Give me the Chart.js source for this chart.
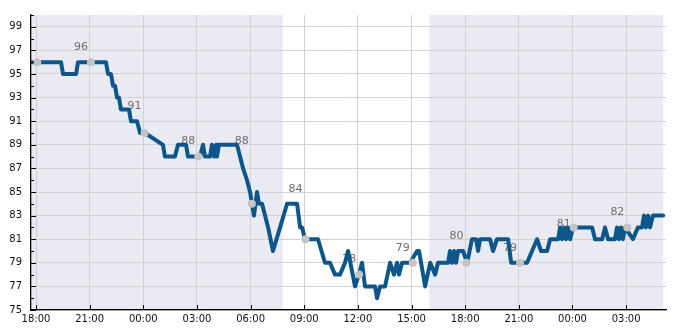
<!DOCTYPE html>
<html>
<head>
<meta charset="utf-8">
<script src="https://cdn.jsdelivr.net/npm/chart.js@4/dist/chart.umd.min.js"></script>
<style>
  html, body { margin: 0; padding: 0; background: #fff; }
  #wrap { width: 685px; height: 330px; }
</style>
</head>
<body>
<div id="wrap"><canvas id="chart" width="685" height="330"></canvas></div>
<script>
// hours counted from midnight of the first day (18 = 18:00, 24 = 00:00 next day ...)
const times = [
  17.72, 19.40, 19.51, 20.24, 20.35, 21.91, 22.03, 22.19, 22.31, 22.42,
  22.53, 22.64, 22.75, 23.20, 23.31, 23.65, 23.82, 24.10, 25.10, 25.21,
  25.77, 25.94, 26.39, 26.50, 27.17, 27.34, 27.45, 27.73, 27.84, 27.96,
  28.07, 28.12, 28.23, 29.24, 29.41, 29.58, 29.80, 29.97, 30.08, 30.19,
  30.36, 30.47, 30.64, 30.98, 31.25, 31.65, 32.04, 32.60, 32.77, 32.88,
  33.04, 33.77, 34.16, 34.44, 34.72, 35.00, 35.28, 35.45, 35.84, 36.06,
  36.23, 36.40, 36.96, 37.07, 37.24, 37.52, 37.80, 38.02, 38.19, 38.30,
  38.47, 38.58, 38.92, 39.31, 39.42, 39.76, 40.04, 40.32, 40.48, 41.04,
  41.15, 41.27, 41.38, 41.49, 41.60, 41.88, 42.11, 42.38, 42.61, 42.72,
  42.83, 43.39, 43.56, 43.78, 44.40, 44.57, 45.46, 45.74, 46.02, 46.24,
  46.58, 46.75, 47.20, 47.31, 47.42, 47.53, 47.64, 47.75, 47.87, 48.03,
  49.10, 49.26, 49.66, 49.82, 49.99, 50.38, 50.49, 50.60, 50.71, 50.82,
  50.94, 51.38, 51.66, 51.89, 52.00, 52.11, 52.23, 52.34, 52.50, 53.07
];
const values = [
  96, 96, 95, 95, 96, 96, 95, 95, 94, 94,
  93, 93, 92, 92, 91, 91, 90, 90, 89, 88,
  88, 89, 89, 88, 88, 89, 88, 88, 89, 88,
  89, 88, 89, 89, 88, 87, 86, 85, 84, 83,
  85, 84, 84, 82, 80, 82, 84, 84, 82, 82,
  81, 81, 79, 79, 78, 78, 79, 80, 77, 78,
  79, 77, 77, 76, 77, 77, 79, 78, 79, 78,
  79, 79, 79, 80, 80, 77, 79, 78, 79, 79,
  80, 79, 80, 79, 80, 80, 79, 81, 81, 80,
  81, 81, 80, 81, 81, 79, 79, 80, 81, 80,
  80, 81, 81, 82, 81, 82, 81, 82, 81, 82,
  82, 81, 81, 82, 81, 81, 82, 81, 82, 81,
  82, 81, 82, 82, 83, 82, 83, 82, 83, 83
];

// grey markers every three hours and the numbers written next to them
const dotTimes = [18.07, 21.07, 24.07, 27.07, 30.07, 33.07, 36.07, 39.07, 42.07, 45.07, 48.07, 51.07];
const dotValues = [96, 96, 90, 88, 84, 81, 78, 79, 79, 79, 82, 82];
const labelTimes = [21.07, 24.07, 27.07, 30.07, 33.07, 36.07, 39.07, 42.07, 45.07, 48.07, 51.07];
const labelTexts = ['96', '91', '88', '88', '84', '78', '79', '80', '79', '81', '82'];

// shaded spans (night)
const shadeFrom = [17.72, 40.0];
const shadeTo = [31.8, 53.07];

const xTicks = [18, 21, 24, 27, 30, 33, 36, 39, 42, 45, 48, 51];
const yTicks = [75, 77, 79, 81, 83, 85, 87, 89, 91, 93, 95, 97, 99];
const yMinorTicks = [76, 78, 80, 82, 84, 86, 88, 90, 92, 94, 96, 98, 100];

const LINE = '#0c5689';
const SHADE = '#eaeaf2';
const FONT = 'DejaVu Sans';

const shading = {
  id: 'shading',
  beforeDraw(chart) {
    const { ctx, chartArea: a, scales: { x } } = chart;
    ctx.save();
    ctx.fillStyle = '#fff';
    ctx.fillRect(0, 0, chart.width, chart.height);
    ctx.fillStyle = SHADE;
    shadeFrom.forEach((from, i) => {
      const x0 = x.getPixelForValue(from);
      const x1 = x.getPixelForValue(shadeTo[i]);
      ctx.fillRect(x0, a.top, x1 - x0, a.bottom - a.top);
    });
    ctx.restore();
  }
};

const markLabels = {
  id: 'markLabels',
  beforeDatasetsDraw(chart) {
    const { ctx, scales: { x, y } } = chart;
    ctx.save();
    ctx.fillStyle = '#6e6e6e';
    ctx.font = `11px "${FONT}"`;
    ctx.textAlign = 'center';
    ctx.textBaseline = 'middle';
    labelTexts.forEach((t, i) => {
      ctx.fillText(t, x.getPixelForValue(labelTimes[i]) - 10, y.getPixelForValue(Number(t)) - 15);
    });
    ctx.restore();
  }
};

// matplotlib style ticks pointing into the plot
const innerTicks = {
  id: 'innerTicks',
  afterDraw(chart) {
    const { ctx, chartArea: a, scales: { x, y } } = chart;
    ctx.save();
    ctx.strokeStyle = '#000';
    ctx.lineWidth = 1;
    ctx.beginPath();
    xTicks.forEach(t => {
      const px = Math.round(x.getPixelForValue(t)) + 0.5;
      ctx.moveTo(px, a.bottom);
      ctx.lineTo(px, a.bottom - 5);
    });
    yTicks.forEach(v => {
      const py = Math.round(y.getPixelForValue(v)) + 0.5;
      ctx.moveTo(a.left, py);
      ctx.lineTo(a.left + 5, py);
    });
    yMinorTicks.forEach(v => {
      const py = Math.round(y.getPixelForValue(v)) + 0.5;
      ctx.moveTo(a.left, py);
      ctx.lineTo(a.left + 3, py);
    });
    ctx.stroke();
    ctx.restore();
  }
};

new Chart(document.getElementById('chart'), {
  type: 'line',
  data: {
    datasets: [
      {
        data: dotTimes.map((t, i) => ({ x: t, y: dotValues[i] })),
        showLine: false,
        pointRadius: 4,
        pointBackgroundColor: '#c4c4c4',
        pointBorderWidth: 0,
        order: 0
      },
      {
        data: times.map((t, i) => ({ x: t, y: values[i] })),
        borderColor: LINE,
        borderWidth: 4,
        borderJoinStyle: 'round',
        borderCapStyle: 'round',
        pointRadius: 0,
        tension: 0,
        fill: false,
        order: 1
      }
    ]
  },
  options: {
    responsive: false,
    animation: false,
    devicePixelRatio: 1,
    layout: { padding: { top: 10, right: 19, left: 0, bottom: 0 } },
    plugins: { legend: { display: false }, tooltip: { enabled: false } },
    scales: {
      x: {
        type: 'linear',
        min: 17.72,
        max: 53.23,
        afterBuildTicks: s => { s.ticks = xTicks.map(v => ({ value: v })); },
        afterFit: s => { s.height = 20; },
        grid: { color: '#d2d2d2', lineWidth: 1, drawTicks: false },
        border: { display: true, color: '#000', width: 1.3 },
        ticks: {
          autoSkip: false,
          maxRotation: 0,
          padding: 3,
          color: '#111',
          font: { family: FONT, size: 10 },
          callback: v => String(Math.round(v) % 24).padStart(2, '0') + ':00'
        }
      },
      y: {
        min: 75,
        max: 100,
        afterBuildTicks: s => { s.ticks = yTicks.map(v => ({ value: v })); },
        afterFit: s => { s.width = 31; },
        grid: { color: '#d2d2d2', lineWidth: 1, drawTicks: false },
        border: { display: true, color: '#000', width: 1.3 },
        ticks: {
          padding: 9,
          color: '#111',
          font: { family: FONT, size: 10 }
        }
      }
    }
  },
  plugins: [shading, markLabels, innerTicks]
});
</script>
</body>
</html>
